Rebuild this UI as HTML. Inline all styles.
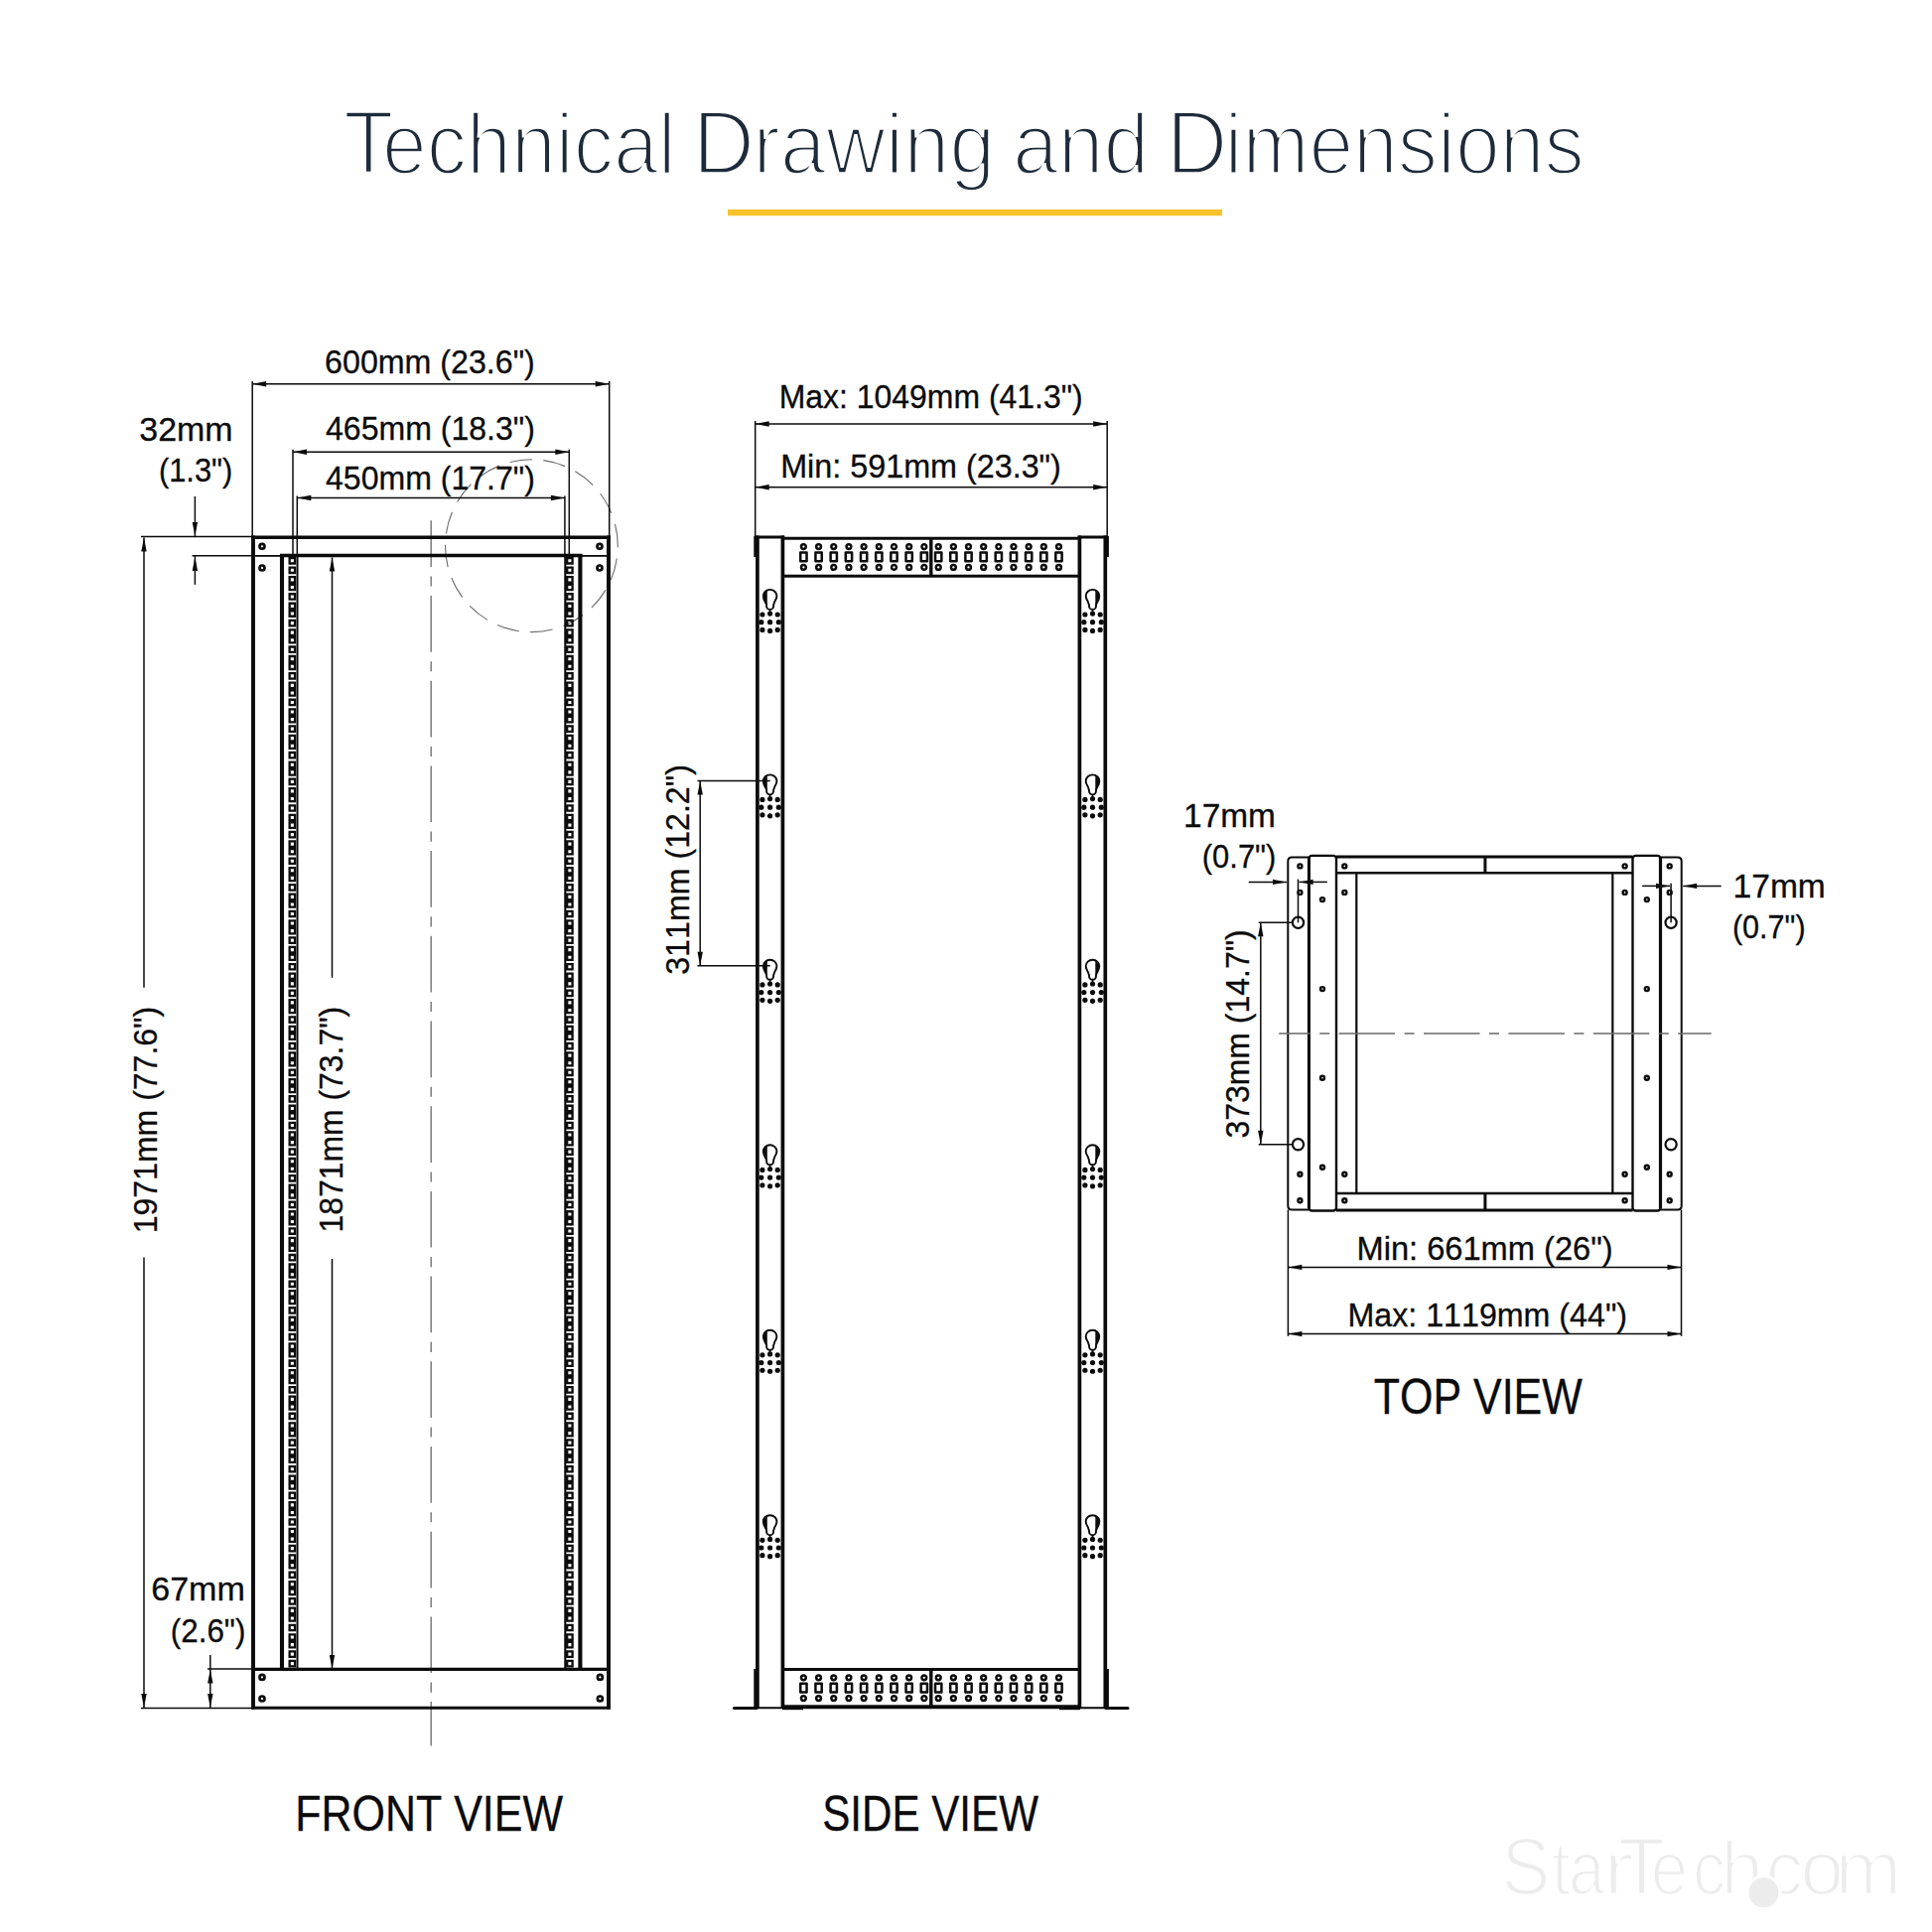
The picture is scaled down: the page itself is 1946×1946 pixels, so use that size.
<!DOCTYPE html><html><head><meta charset="utf-8"><style>html,body{margin:0;padding:0;background:#fff;width:1946px;height:1946px;overflow:hidden}svg{display:block}text{font-family:"Liberation Sans",sans-serif;font-kerning:none}</style></head><body>
<svg width="1946" height="1946" viewBox="0 0 1946 1946">
<rect width="1946" height="1946" fill="#fff"/>
<text x="346.04" y="175.4" font-size="91.57" textLength="50.45" lengthAdjust="spacingAndGlyphs" fill="#1e2b3a" stroke="#fff" stroke-width="3.4">T</text>
<text x="384.97" y="175.4" font-size="87.45" textLength="295.82" lengthAdjust="spacingAndGlyphs" fill="#1e2b3a" stroke="#fff" stroke-width="3.4">echnical</text>
<text x="697.82" y="175.4" font-size="91.57" textLength="62.31" lengthAdjust="spacingAndGlyphs" fill="#1e2b3a" stroke="#fff" stroke-width="3.4">D</text>
<text x="758.2" y="175.4" font-size="87.45" textLength="244.15" lengthAdjust="spacingAndGlyphs" fill="#1e2b3a" stroke="#fff" stroke-width="3.4">rawing</text>
<text x="1019.9" y="175.4" font-size="87.45" textLength="137.3" lengthAdjust="spacingAndGlyphs" fill="#1e2b3a" stroke="#fff" stroke-width="3.4">and</text>
<text x="1174.79" y="175.4" font-size="91.57" textLength="61.7" lengthAdjust="spacingAndGlyphs" fill="#1e2b3a" stroke="#fff" stroke-width="3.4">D</text>
<text x="1233.52" y="175.4" font-size="87.45" textLength="362.09" lengthAdjust="spacingAndGlyphs" fill="#1e2b3a" stroke="#fff" stroke-width="3.4">imensions</text>
<rect x="733" y="211" width="498" height="6.3" fill="#f9c32b"/>
<text x="1512.34" y="1907.6" font-size="82.27" textLength="49.36" lengthAdjust="spacingAndGlyphs" fill="#ececec" stroke="#fff" stroke-width="2.6">S</text>
<text x="1562.66" y="1907.6" font-size="75.73" textLength="19.15" lengthAdjust="spacingAndGlyphs" fill="#ececec" stroke="#fff" stroke-width="2.6">t</text>
<text x="1579.92" y="1907.6" font-size="75.73" textLength="36.38" lengthAdjust="spacingAndGlyphs" fill="#ececec" stroke="#fff" stroke-width="2.6">a</text>
<text x="1614.43" y="1907.6" font-size="75.73" textLength="31.44" lengthAdjust="spacingAndGlyphs" fill="#ececec" stroke="#fff" stroke-width="2.6">r</text>
<text x="1629.97" y="1907.6" font-size="82.27" textLength="47.1" lengthAdjust="spacingAndGlyphs" fill="#ececec" stroke="#fff" stroke-width="2.6">T</text>
<text x="1662.84" y="1907.6" font-size="75.73" textLength="37.45" lengthAdjust="spacingAndGlyphs" fill="#ececec" stroke="#fff" stroke-width="2.6">e</text>
<text x="1704.88" y="1907.6" font-size="75.73" textLength="33.17" lengthAdjust="spacingAndGlyphs" fill="#ececec" stroke="#fff" stroke-width="2.6">c</text>
<text x="1733.34" y="1907.6" font-size="75.73" textLength="42.98" lengthAdjust="spacingAndGlyphs" fill="#ececec" stroke="#fff" stroke-width="2.6">h</text>
<text x="1778.49" y="1907.6" font-size="75.73" textLength="37.81" lengthAdjust="spacingAndGlyphs" fill="#ececec" stroke="#fff" stroke-width="2.6">c</text>
<text x="1813.36" y="1907.6" font-size="75.73" textLength="44.29" lengthAdjust="spacingAndGlyphs" fill="#ececec" stroke="#fff" stroke-width="2.6">o</text>
<text x="1848.34" y="1907.6" font-size="75.73" textLength="67.29" lengthAdjust="spacingAndGlyphs" fill="#ececec" stroke="#fff" stroke-width="2.6">m</text>
<circle cx="1776.5" cy="1906.3" r="16.5" fill="#ececec" stroke="#fff" stroke-width="3"/>
<line x1="434.2" y1="524.3" x2="434.2" y2="1758.5" stroke="#6a6a6a" stroke-width="1.3" stroke-dasharray="56.7 9.5 10.1 9.4" stroke-dashoffset="10"/>
<circle cx="535.4" cy="549.7" r="86.9" fill="none" stroke="#6a6a6a" stroke-width="1.1" stroke-dasharray="22.6 11.4" stroke-dashoffset="21.1"/>
<line x1="253.2" y1="541.2" x2="614.8" y2="541.2" stroke="#0b0b0b" stroke-width="3.5"/>
<line x1="255" y1="539.5" x2="255" y2="1721.5" stroke="#0b0b0b" stroke-width="3.9"/>
<line x1="613" y1="539.5" x2="613" y2="1721.5" stroke="#0b0b0b" stroke-width="3.9"/>
<line x1="253.2" y1="1720.2" x2="614.8" y2="1720.2" stroke="#0b0b0b" stroke-width="3"/>
<line x1="255" y1="1681.4" x2="613" y2="1681.4" stroke="#0b0b0b" stroke-width="3.3"/>
<line x1="282.1" y1="559.5" x2="586.3" y2="559.5" stroke="#0b0b0b" stroke-width="3.3"/>
<line x1="257" y1="559.9" x2="282" y2="559.9" stroke="#0b0b0b" stroke-width="1.8"/>
<line x1="586" y1="559.9" x2="611.5" y2="559.9" stroke="#0b0b0b" stroke-width="1.8"/>
<line x1="284" y1="558" x2="284" y2="1681" stroke="#0b0b0b" stroke-width="4.1"/>
<line x1="584.4" y1="558" x2="584.4" y2="1681" stroke="#0b0b0b" stroke-width="4.1"/>
<line x1="299.5" y1="561" x2="299.5" y2="1681" stroke="#0b0b0b" stroke-width="2"/>
<line x1="569.3" y1="561" x2="569.3" y2="1681" stroke="#0b0b0b" stroke-width="2.1"/>
<path d="M291.65 562.1h5.4v5.4h-5.4ZM571.2 562.1h5.4v5.4h-5.4ZM291.65 571.62h5.4v5.4h-5.4ZM571.2 571.62h5.4v5.4h-5.4ZM291.65 581.13h5.4v5.4h-5.4ZM571.2 581.13h5.4v5.4h-5.4ZM291.65 588.73h5.4v5.4h-5.4ZM571.2 588.73h5.4v5.4h-5.4ZM291.65 598.25h5.4v5.4h-5.4ZM571.2 598.25h5.4v5.4h-5.4ZM291.65 607.76h5.4v5.4h-5.4ZM571.2 607.76h5.4v5.4h-5.4ZM291.65 615.36h5.4v5.4h-5.4ZM571.2 615.36h5.4v5.4h-5.4ZM291.65 624.88h5.4v5.4h-5.4ZM571.2 624.88h5.4v5.4h-5.4ZM291.65 634.39h5.4v5.4h-5.4ZM571.2 634.39h5.4v5.4h-5.4ZM291.65 641.99h5.4v5.4h-5.4ZM571.2 641.99h5.4v5.4h-5.4ZM291.65 651.5h5.4v5.4h-5.4ZM571.2 651.5h5.4v5.4h-5.4ZM291.65 661.02h5.4v5.4h-5.4ZM571.2 661.02h5.4v5.4h-5.4ZM291.65 668.62h5.4v5.4h-5.4ZM571.2 668.62h5.4v5.4h-5.4ZM291.65 678.13h5.4v5.4h-5.4ZM571.2 678.13h5.4v5.4h-5.4ZM291.65 687.65h5.4v5.4h-5.4ZM571.2 687.65h5.4v5.4h-5.4ZM291.65 695.25h5.4v5.4h-5.4ZM571.2 695.25h5.4v5.4h-5.4ZM291.65 704.76h5.4v5.4h-5.4ZM571.2 704.76h5.4v5.4h-5.4ZM291.65 714.28h5.4v5.4h-5.4ZM571.2 714.28h5.4v5.4h-5.4ZM291.65 721.88h5.4v5.4h-5.4ZM571.2 721.88h5.4v5.4h-5.4ZM291.65 731.39h5.4v5.4h-5.4ZM571.2 731.39h5.4v5.4h-5.4ZM291.65 740.91h5.4v5.4h-5.4ZM571.2 740.91h5.4v5.4h-5.4ZM291.65 748.51h5.4v5.4h-5.4ZM571.2 748.51h5.4v5.4h-5.4ZM291.65 758.02h5.4v5.4h-5.4ZM571.2 758.02h5.4v5.4h-5.4ZM291.65 767.54h5.4v5.4h-5.4ZM571.2 767.54h5.4v5.4h-5.4ZM291.65 775.14h5.4v5.4h-5.4ZM571.2 775.14h5.4v5.4h-5.4ZM291.65 784.65h5.4v5.4h-5.4ZM571.2 784.65h5.4v5.4h-5.4ZM291.65 794.17h5.4v5.4h-5.4ZM571.2 794.17h5.4v5.4h-5.4ZM291.65 801.77h5.4v5.4h-5.4ZM571.2 801.77h5.4v5.4h-5.4ZM291.65 811.28h5.4v5.4h-5.4ZM571.2 811.28h5.4v5.4h-5.4ZM291.65 820.8h5.4v5.4h-5.4ZM571.2 820.8h5.4v5.4h-5.4ZM291.65 828.4h5.4v5.4h-5.4ZM571.2 828.4h5.4v5.4h-5.4ZM291.65 837.91h5.4v5.4h-5.4ZM571.2 837.91h5.4v5.4h-5.4ZM291.65 847.43h5.4v5.4h-5.4ZM571.2 847.43h5.4v5.4h-5.4ZM291.65 855.03h5.4v5.4h-5.4ZM571.2 855.03h5.4v5.4h-5.4ZM291.65 864.54h5.4v5.4h-5.4ZM571.2 864.54h5.4v5.4h-5.4ZM291.65 874.06h5.4v5.4h-5.4ZM571.2 874.06h5.4v5.4h-5.4ZM291.65 881.66h5.4v5.4h-5.4ZM571.2 881.66h5.4v5.4h-5.4ZM291.65 891.17h5.4v5.4h-5.4ZM571.2 891.17h5.4v5.4h-5.4ZM291.65 900.69h5.4v5.4h-5.4ZM571.2 900.69h5.4v5.4h-5.4ZM291.65 908.29h5.4v5.4h-5.4ZM571.2 908.29h5.4v5.4h-5.4ZM291.65 917.8h5.4v5.4h-5.4ZM571.2 917.8h5.4v5.4h-5.4ZM291.65 927.32h5.4v5.4h-5.4ZM571.2 927.32h5.4v5.4h-5.4ZM291.65 934.92h5.4v5.4h-5.4ZM571.2 934.92h5.4v5.4h-5.4ZM291.65 944.43h5.4v5.4h-5.4ZM571.2 944.43h5.4v5.4h-5.4ZM291.65 953.95h5.4v5.4h-5.4ZM571.2 953.95h5.4v5.4h-5.4ZM291.65 961.55h5.4v5.4h-5.4ZM571.2 961.55h5.4v5.4h-5.4ZM291.65 971.06h5.4v5.4h-5.4ZM571.2 971.06h5.4v5.4h-5.4ZM291.65 980.58h5.4v5.4h-5.4ZM571.2 980.58h5.4v5.4h-5.4ZM291.65 988.18h5.4v5.4h-5.4ZM571.2 988.18h5.4v5.4h-5.4ZM291.65 997.69h5.4v5.4h-5.4ZM571.2 997.69h5.4v5.4h-5.4ZM291.65 1007.21h5.4v5.4h-5.4ZM571.2 1007.21h5.4v5.4h-5.4ZM291.65 1014.81h5.4v5.4h-5.4ZM571.2 1014.81h5.4v5.4h-5.4ZM291.65 1024.33h5.4v5.4h-5.4ZM571.2 1024.33h5.4v5.4h-5.4ZM291.65 1033.84h5.4v5.4h-5.4ZM571.2 1033.84h5.4v5.4h-5.4ZM291.65 1041.44h5.4v5.4h-5.4ZM571.2 1041.44h5.4v5.4h-5.4ZM291.65 1050.95h5.4v5.4h-5.4ZM571.2 1050.95h5.4v5.4h-5.4ZM291.65 1060.47h5.4v5.4h-5.4ZM571.2 1060.47h5.4v5.4h-5.4ZM291.65 1068.07h5.4v5.4h-5.4ZM571.2 1068.07h5.4v5.4h-5.4ZM291.65 1077.58h5.4v5.4h-5.4ZM571.2 1077.58h5.4v5.4h-5.4ZM291.65 1087.1h5.4v5.4h-5.4ZM571.2 1087.1h5.4v5.4h-5.4ZM291.65 1094.7h5.4v5.4h-5.4ZM571.2 1094.7h5.4v5.4h-5.4ZM291.65 1104.21h5.4v5.4h-5.4ZM571.2 1104.21h5.4v5.4h-5.4ZM291.65 1113.73h5.4v5.4h-5.4ZM571.2 1113.73h5.4v5.4h-5.4ZM291.65 1121.33h5.4v5.4h-5.4ZM571.2 1121.33h5.4v5.4h-5.4ZM291.65 1130.85h5.4v5.4h-5.4ZM571.2 1130.85h5.4v5.4h-5.4ZM291.65 1140.36h5.4v5.4h-5.4ZM571.2 1140.36h5.4v5.4h-5.4ZM291.65 1147.96h5.4v5.4h-5.4ZM571.2 1147.96h5.4v5.4h-5.4ZM291.65 1157.47h5.4v5.4h-5.4ZM571.2 1157.47h5.4v5.4h-5.4ZM291.65 1166.99h5.4v5.4h-5.4ZM571.2 1166.99h5.4v5.4h-5.4ZM291.65 1174.59h5.4v5.4h-5.4ZM571.2 1174.59h5.4v5.4h-5.4ZM291.65 1184.1h5.4v5.4h-5.4ZM571.2 1184.1h5.4v5.4h-5.4ZM291.65 1193.62h5.4v5.4h-5.4ZM571.2 1193.62h5.4v5.4h-5.4ZM291.65 1201.22h5.4v5.4h-5.4ZM571.2 1201.22h5.4v5.4h-5.4ZM291.65 1210.73h5.4v5.4h-5.4ZM571.2 1210.73h5.4v5.4h-5.4ZM291.65 1220.25h5.4v5.4h-5.4ZM571.2 1220.25h5.4v5.4h-5.4ZM291.65 1227.85h5.4v5.4h-5.4ZM571.2 1227.85h5.4v5.4h-5.4ZM291.65 1237.37h5.4v5.4h-5.4ZM571.2 1237.37h5.4v5.4h-5.4ZM291.65 1246.88h5.4v5.4h-5.4ZM571.2 1246.88h5.4v5.4h-5.4ZM291.65 1254.48h5.4v5.4h-5.4ZM571.2 1254.48h5.4v5.4h-5.4ZM291.65 1263.99h5.4v5.4h-5.4ZM571.2 1263.99h5.4v5.4h-5.4ZM291.65 1273.51h5.4v5.4h-5.4ZM571.2 1273.51h5.4v5.4h-5.4ZM291.65 1281.11h5.4v5.4h-5.4ZM571.2 1281.11h5.4v5.4h-5.4ZM291.65 1290.62h5.4v5.4h-5.4ZM571.2 1290.62h5.4v5.4h-5.4ZM291.65 1300.14h5.4v5.4h-5.4ZM571.2 1300.14h5.4v5.4h-5.4ZM291.65 1307.74h5.4v5.4h-5.4ZM571.2 1307.74h5.4v5.4h-5.4ZM291.65 1317.25h5.4v5.4h-5.4ZM571.2 1317.25h5.4v5.4h-5.4ZM291.65 1326.77h5.4v5.4h-5.4ZM571.2 1326.77h5.4v5.4h-5.4ZM291.65 1334.37h5.4v5.4h-5.4ZM571.2 1334.37h5.4v5.4h-5.4ZM291.65 1343.88h5.4v5.4h-5.4ZM571.2 1343.88h5.4v5.4h-5.4ZM291.65 1353.4h5.4v5.4h-5.4ZM571.2 1353.4h5.4v5.4h-5.4ZM291.65 1361h5.4v5.4h-5.4ZM571.2 1361h5.4v5.4h-5.4ZM291.65 1370.51h5.4v5.4h-5.4ZM571.2 1370.51h5.4v5.4h-5.4ZM291.65 1380.03h5.4v5.4h-5.4ZM571.2 1380.03h5.4v5.4h-5.4ZM291.65 1387.63h5.4v5.4h-5.4ZM571.2 1387.63h5.4v5.4h-5.4ZM291.65 1397.14h5.4v5.4h-5.4ZM571.2 1397.14h5.4v5.4h-5.4ZM291.65 1406.66h5.4v5.4h-5.4ZM571.2 1406.66h5.4v5.4h-5.4ZM291.65 1414.26h5.4v5.4h-5.4ZM571.2 1414.26h5.4v5.4h-5.4ZM291.65 1423.77h5.4v5.4h-5.4ZM571.2 1423.77h5.4v5.4h-5.4ZM291.65 1433.29h5.4v5.4h-5.4ZM571.2 1433.29h5.4v5.4h-5.4ZM291.65 1440.89h5.4v5.4h-5.4ZM571.2 1440.89h5.4v5.4h-5.4ZM291.65 1450.4h5.4v5.4h-5.4ZM571.2 1450.4h5.4v5.4h-5.4ZM291.65 1459.92h5.4v5.4h-5.4ZM571.2 1459.92h5.4v5.4h-5.4ZM291.65 1467.52h5.4v5.4h-5.4ZM571.2 1467.52h5.4v5.4h-5.4ZM291.65 1477.04h5.4v5.4h-5.4ZM571.2 1477.04h5.4v5.4h-5.4ZM291.65 1486.55h5.4v5.4h-5.4ZM571.2 1486.55h5.4v5.4h-5.4ZM291.65 1494.15h5.4v5.4h-5.4ZM571.2 1494.15h5.4v5.4h-5.4ZM291.65 1503.66h5.4v5.4h-5.4ZM571.2 1503.66h5.4v5.4h-5.4ZM291.65 1513.18h5.4v5.4h-5.4ZM571.2 1513.18h5.4v5.4h-5.4ZM291.65 1520.78h5.4v5.4h-5.4ZM571.2 1520.78h5.4v5.4h-5.4ZM291.65 1530.29h5.4v5.4h-5.4ZM571.2 1530.29h5.4v5.4h-5.4ZM291.65 1539.81h5.4v5.4h-5.4ZM571.2 1539.81h5.4v5.4h-5.4ZM291.65 1547.41h5.4v5.4h-5.4ZM571.2 1547.41h5.4v5.4h-5.4ZM291.65 1556.92h5.4v5.4h-5.4ZM571.2 1556.92h5.4v5.4h-5.4ZM291.65 1566.44h5.4v5.4h-5.4ZM571.2 1566.44h5.4v5.4h-5.4ZM291.65 1574.04h5.4v5.4h-5.4ZM571.2 1574.04h5.4v5.4h-5.4ZM291.65 1583.55h5.4v5.4h-5.4ZM571.2 1583.55h5.4v5.4h-5.4ZM291.65 1593.07h5.4v5.4h-5.4ZM571.2 1593.07h5.4v5.4h-5.4ZM291.65 1600.67h5.4v5.4h-5.4ZM571.2 1600.67h5.4v5.4h-5.4ZM291.65 1610.18h5.4v5.4h-5.4ZM571.2 1610.18h5.4v5.4h-5.4ZM291.65 1619.7h5.4v5.4h-5.4ZM571.2 1619.7h5.4v5.4h-5.4ZM291.65 1627.3h5.4v5.4h-5.4ZM571.2 1627.3h5.4v5.4h-5.4ZM291.65 1636.81h5.4v5.4h-5.4ZM571.2 1636.81h5.4v5.4h-5.4ZM291.65 1646.33h5.4v5.4h-5.4ZM571.2 1646.33h5.4v5.4h-5.4ZM291.65 1653.93h5.4v5.4h-5.4ZM571.2 1653.93h5.4v5.4h-5.4ZM291.65 1663.44h5.4v5.4h-5.4ZM571.2 1663.44h5.4v5.4h-5.4ZM291.65 1672.96h5.4v5.4h-5.4ZM571.2 1672.96h5.4v5.4h-5.4Z" fill="none" stroke="#0b0b0b" stroke-width="2.3"/>
<circle cx="264" cy="550.3" r="2.5" fill="none" stroke="#0b0b0b" stroke-width="2.7"/>
<circle cx="264" cy="572" r="2.5" fill="none" stroke="#0b0b0b" stroke-width="2.7"/>
<circle cx="604" cy="550.3" r="2.5" fill="none" stroke="#0b0b0b" stroke-width="2.7"/>
<circle cx="604" cy="572" r="2.5" fill="none" stroke="#0b0b0b" stroke-width="2.7"/>
<circle cx="264" cy="1689.4" r="2.5" fill="none" stroke="#0b0b0b" stroke-width="2.7"/>
<circle cx="264" cy="1711" r="2.5" fill="none" stroke="#0b0b0b" stroke-width="2.7"/>
<circle cx="604.4" cy="1689.4" r="2.5" fill="none" stroke="#0b0b0b" stroke-width="2.7"/>
<circle cx="604.4" cy="1711" r="2.5" fill="none" stroke="#0b0b0b" stroke-width="2.7"/>
<line x1="254.2" y1="384" x2="254.2" y2="540" stroke="#0b0b0b" stroke-width="1.5"/>
<line x1="613.7" y1="384" x2="613.7" y2="540" stroke="#0b0b0b" stroke-width="1.5"/>
<line x1="254.2" y1="386.8" x2="613.7" y2="386.8" stroke="#0b0b0b" stroke-width="1.5"/>
<path d="M254.2 386.8L268.2 384.1L268.2 389.5Z" fill="#0b0b0b"/>
<path d="M613.7 386.8L599.7 389.5L599.7 384.1Z" fill="#0b0b0b"/>
<line x1="295" y1="452.7" x2="295" y2="558" stroke="#0b0b0b" stroke-width="1.5"/>
<line x1="573.3" y1="452.7" x2="573.3" y2="558" stroke="#0b0b0b" stroke-width="1.5"/>
<line x1="295" y1="455.2" x2="573.3" y2="455.2" stroke="#0b0b0b" stroke-width="1.5"/>
<path d="M295 455.2L309 452.5L309 457.9Z" fill="#0b0b0b"/>
<path d="M573.3 455.2L559.3 457.9L559.3 452.5Z" fill="#0b0b0b"/>
<line x1="299.3" y1="499.5" x2="299.3" y2="558" stroke="#0b0b0b" stroke-width="1.5"/>
<line x1="568.9" y1="499.5" x2="568.9" y2="558" stroke="#0b0b0b" stroke-width="1.5"/>
<line x1="299.3" y1="501.5" x2="568.9" y2="501.5" stroke="#0b0b0b" stroke-width="1.5"/>
<path d="M299.3 501.5L313.3 498.8L313.3 504.2Z" fill="#0b0b0b"/>
<path d="M568.9 501.5L554.9 504.2L554.9 498.8Z" fill="#0b0b0b"/>
<line x1="142" y1="540.5" x2="254" y2="540.5" stroke="#0b0b0b" stroke-width="1.5"/>
<line x1="193.5" y1="559.8" x2="257" y2="559.8" stroke="#0b0b0b" stroke-width="1.5"/>
<line x1="196.4" y1="500" x2="196.4" y2="540.5" stroke="#0b0b0b" stroke-width="1.5"/>
<path d="M196.4 540L193.7 526L199.1 526Z" fill="#0b0b0b"/>
<line x1="196.4" y1="560" x2="196.4" y2="588.9" stroke="#0b0b0b" stroke-width="1.5"/>
<path d="M196.4 561L199.1 575L193.7 575Z" fill="#0b0b0b"/>
<line x1="145" y1="541.4" x2="145" y2="994.7" stroke="#0b0b0b" stroke-width="1.5"/>
<line x1="145" y1="1266.6" x2="145" y2="1720" stroke="#0b0b0b" stroke-width="1.5"/>
<path d="M145 541.4L147.7 555.4L142.3 555.4Z" fill="#0b0b0b"/>
<path d="M145 1720L142.3 1706L147.7 1706Z" fill="#0b0b0b"/>
<line x1="142" y1="1720.5" x2="254" y2="1720.5" stroke="#0b0b0b" stroke-width="1.5"/>
<line x1="334.5" y1="561.4" x2="334.5" y2="984.7" stroke="#0b0b0b" stroke-width="1.5"/>
<line x1="334.5" y1="1268" x2="334.5" y2="1681" stroke="#0b0b0b" stroke-width="1.5"/>
<path d="M334.5 561.4L337.2 575.4L331.8 575.4Z" fill="#0b0b0b"/>
<path d="M334.5 1681L331.8 1667L337.2 1667Z" fill="#0b0b0b"/>
<line x1="209" y1="1681" x2="254" y2="1681" stroke="#0b0b0b" stroke-width="1.5"/>
<line x1="211.8" y1="1667" x2="211.8" y2="1720" stroke="#0b0b0b" stroke-width="1.5"/>
<path d="M211.8 1681.5L214.5 1695.5L209.1 1695.5Z" fill="#0b0b0b"/>
<path d="M211.8 1720L209.1 1706L214.5 1706Z" fill="#0b0b0b"/>
<text x="327.12" y="375.65" font-size="32.85" textLength="211.73" lengthAdjust="spacingAndGlyphs" fill="#0b0b0b" stroke="#0b0b0b" stroke-width="0.3">600mm (23.6&quot;)</text>
<text x="328.01" y="442.85" font-size="32.85" textLength="210.82" lengthAdjust="spacingAndGlyphs" fill="#0b0b0b" stroke="#0b0b0b" stroke-width="0.3">465mm (18.3&quot;)</text>
<text x="328.01" y="492.75" font-size="32.85" textLength="210.82" lengthAdjust="spacingAndGlyphs" fill="#0b0b0b" stroke="#0b0b0b" stroke-width="0.3">450mm (17.7&quot;)</text>
<text x="140.36" y="444.25" font-size="32.85" textLength="94.23" lengthAdjust="spacingAndGlyphs" fill="#0b0b0b" stroke="#0b0b0b" stroke-width="0.3">32mm</text>
<text x="159.94" y="485.45" font-size="32.85" textLength="74.32" lengthAdjust="spacingAndGlyphs" fill="#0b0b0b" stroke="#0b0b0b" stroke-width="0.3">(1.3&quot;)</text>
<text x="152.22" y="1611.85" font-size="32.85" textLength="94.68" lengthAdjust="spacingAndGlyphs" fill="#0b0b0b" stroke="#0b0b0b" stroke-width="0.3">67mm</text>
<text x="171.81" y="1653.55" font-size="32.85" textLength="75.59" lengthAdjust="spacingAndGlyphs" fill="#0b0b0b" stroke="#0b0b0b" stroke-width="0.3">(2.6&quot;)</text>
<text transform="translate(157.8 1240) rotate(-90)" x="-2.29" y="-0.15" font-size="32.85" textLength="228.42" lengthAdjust="spacingAndGlyphs" fill="#0b0b0b" stroke="#0b0b0b" stroke-width="0.3">1971mm (77.6&quot;)</text>
<text transform="translate(345.2 1239.3) rotate(-90)" x="-2.28" y="-0.15" font-size="32.85" textLength="227.71" lengthAdjust="spacingAndGlyphs" fill="#0b0b0b" stroke="#0b0b0b" stroke-width="0.3">1871mm (73.7&quot;)</text>
<text x="297.33" y="1844.05" font-size="50.73" textLength="269.67" lengthAdjust="spacingAndGlyphs" fill="#0b0b0b" stroke="#0b0b0b" stroke-width="0.3">FRONT VIEW</text>
<line x1="762.9" y1="539.5" x2="762.9" y2="1720.5" stroke="#0b0b0b" stroke-width="3.7"/>
<line x1="788.4" y1="539.5" x2="788.4" y2="1720" stroke="#0b0b0b" stroke-width="3.7"/>
<line x1="1087.4" y1="539.5" x2="1087.4" y2="1720" stroke="#0b0b0b" stroke-width="3.7"/>
<line x1="1113.3" y1="539.5" x2="1113.3" y2="1720.5" stroke="#0b0b0b" stroke-width="3.7"/>
<line x1="761.2" y1="541" x2="790.1" y2="541" stroke="#0b0b0b" stroke-width="3"/>
<line x1="1085.7" y1="541" x2="1115" y2="541" stroke="#0b0b0b" stroke-width="3"/>
<line x1="760.3" y1="540" x2="760.3" y2="561" stroke="#0b0b0b" stroke-width="2"/>
<line x1="760.3" y1="1681" x2="760.3" y2="1720" stroke="#0b0b0b" stroke-width="2"/>
<line x1="1115.9" y1="540" x2="1115.9" y2="561" stroke="#0b0b0b" stroke-width="2"/>
<line x1="1115.9" y1="1681" x2="1115.9" y2="1720" stroke="#0b0b0b" stroke-width="2"/>
<line x1="788.4" y1="542.3" x2="1087.4" y2="542.3" stroke="#0b0b0b" stroke-width="3.1"/>
<line x1="788.4" y1="580.2" x2="1087.4" y2="580.2" stroke="#0b0b0b" stroke-width="3.1"/>
<line x1="937.8" y1="542.3" x2="937.8" y2="580.2" stroke="#0b0b0b" stroke-width="3.4"/>
<path d="M807 550.6a2.4 2.4 0 1 0 4.8 0a2.4 2.4 0 1 0-4.8 0ZM807 571.4a2.4 2.4 0 1 0 4.8 0a2.4 2.4 0 1 0-4.8 0ZM806.25 556.45h6.3v8.9h-6.3ZM822.18 550.6a2.4 2.4 0 1 0 4.8 0a2.4 2.4 0 1 0-4.8 0ZM822.18 571.4a2.4 2.4 0 1 0 4.8 0a2.4 2.4 0 1 0-4.8 0ZM821.43 556.45h6.3v8.9h-6.3ZM837.36 550.6a2.4 2.4 0 1 0 4.8 0a2.4 2.4 0 1 0-4.8 0ZM837.36 571.4a2.4 2.4 0 1 0 4.8 0a2.4 2.4 0 1 0-4.8 0ZM836.61 556.45h6.3v8.9h-6.3ZM852.54 550.6a2.4 2.4 0 1 0 4.8 0a2.4 2.4 0 1 0-4.8 0ZM852.54 571.4a2.4 2.4 0 1 0 4.8 0a2.4 2.4 0 1 0-4.8 0ZM851.79 556.45h6.3v8.9h-6.3ZM867.72 550.6a2.4 2.4 0 1 0 4.8 0a2.4 2.4 0 1 0-4.8 0ZM867.72 571.4a2.4 2.4 0 1 0 4.8 0a2.4 2.4 0 1 0-4.8 0ZM866.97 556.45h6.3v8.9h-6.3ZM882.9 550.6a2.4 2.4 0 1 0 4.8 0a2.4 2.4 0 1 0-4.8 0ZM882.9 571.4a2.4 2.4 0 1 0 4.8 0a2.4 2.4 0 1 0-4.8 0ZM882.15 556.45h6.3v8.9h-6.3ZM898.08 550.6a2.4 2.4 0 1 0 4.8 0a2.4 2.4 0 1 0-4.8 0ZM898.08 571.4a2.4 2.4 0 1 0 4.8 0a2.4 2.4 0 1 0-4.8 0ZM897.33 556.45h6.3v8.9h-6.3ZM913.26 550.6a2.4 2.4 0 1 0 4.8 0a2.4 2.4 0 1 0-4.8 0ZM913.26 571.4a2.4 2.4 0 1 0 4.8 0a2.4 2.4 0 1 0-4.8 0ZM912.51 556.45h6.3v8.9h-6.3ZM928.44 550.6a2.4 2.4 0 1 0 4.8 0a2.4 2.4 0 1 0-4.8 0ZM928.44 571.4a2.4 2.4 0 1 0 4.8 0a2.4 2.4 0 1 0-4.8 0ZM927.69 556.45h6.3v8.9h-6.3ZM942.8 550.6a2.4 2.4 0 1 0 4.8 0a2.4 2.4 0 1 0-4.8 0ZM942.8 571.4a2.4 2.4 0 1 0 4.8 0a2.4 2.4 0 1 0-4.8 0ZM942.05 556.45h6.3v8.9h-6.3ZM957.96 550.6a2.4 2.4 0 1 0 4.8 0a2.4 2.4 0 1 0-4.8 0ZM957.96 571.4a2.4 2.4 0 1 0 4.8 0a2.4 2.4 0 1 0-4.8 0ZM957.21 556.45h6.3v8.9h-6.3ZM973.12 550.6a2.4 2.4 0 1 0 4.8 0a2.4 2.4 0 1 0-4.8 0ZM973.12 571.4a2.4 2.4 0 1 0 4.8 0a2.4 2.4 0 1 0-4.8 0ZM972.37 556.45h6.3v8.9h-6.3ZM988.28 550.6a2.4 2.4 0 1 0 4.8 0a2.4 2.4 0 1 0-4.8 0ZM988.28 571.4a2.4 2.4 0 1 0 4.8 0a2.4 2.4 0 1 0-4.8 0ZM987.53 556.45h6.3v8.9h-6.3ZM1003.44 550.6a2.4 2.4 0 1 0 4.8 0a2.4 2.4 0 1 0-4.8 0ZM1003.44 571.4a2.4 2.4 0 1 0 4.8 0a2.4 2.4 0 1 0-4.8 0ZM1002.69 556.45h6.3v8.9h-6.3ZM1018.6 550.6a2.4 2.4 0 1 0 4.8 0a2.4 2.4 0 1 0-4.8 0ZM1018.6 571.4a2.4 2.4 0 1 0 4.8 0a2.4 2.4 0 1 0-4.8 0ZM1017.85 556.45h6.3v8.9h-6.3ZM1033.76 550.6a2.4 2.4 0 1 0 4.8 0a2.4 2.4 0 1 0-4.8 0ZM1033.76 571.4a2.4 2.4 0 1 0 4.8 0a2.4 2.4 0 1 0-4.8 0ZM1033.01 556.45h6.3v8.9h-6.3ZM1048.92 550.6a2.4 2.4 0 1 0 4.8 0a2.4 2.4 0 1 0-4.8 0ZM1048.92 571.4a2.4 2.4 0 1 0 4.8 0a2.4 2.4 0 1 0-4.8 0ZM1048.17 556.45h6.3v8.9h-6.3ZM1064.08 550.6a2.4 2.4 0 1 0 4.8 0a2.4 2.4 0 1 0-4.8 0ZM1064.08 571.4a2.4 2.4 0 1 0 4.8 0a2.4 2.4 0 1 0-4.8 0ZM1063.33 556.45h6.3v8.9h-6.3Z" fill="none" stroke="#0b0b0b" stroke-width="2.5" stroke-linejoin="round"/>
<line x1="788.4" y1="1681.5" x2="1087.4" y2="1681.5" stroke="#0b0b0b" stroke-width="3.1"/>
<line x1="788.4" y1="1718.8" x2="1087.4" y2="1718.8" stroke="#0b0b0b" stroke-width="3.1"/>
<line x1="937.8" y1="1681.5" x2="937.8" y2="1718.8" stroke="#0b0b0b" stroke-width="3.4"/>
<path d="M807 1689.8a2.4 2.4 0 1 0 4.8 0a2.4 2.4 0 1 0-4.8 0ZM807 1710.6a2.4 2.4 0 1 0 4.8 0a2.4 2.4 0 1 0-4.8 0ZM806.25 1695.65h6.3v8.9h-6.3ZM822.18 1689.8a2.4 2.4 0 1 0 4.8 0a2.4 2.4 0 1 0-4.8 0ZM822.18 1710.6a2.4 2.4 0 1 0 4.8 0a2.4 2.4 0 1 0-4.8 0ZM821.43 1695.65h6.3v8.9h-6.3ZM837.36 1689.8a2.4 2.4 0 1 0 4.8 0a2.4 2.4 0 1 0-4.8 0ZM837.36 1710.6a2.4 2.4 0 1 0 4.8 0a2.4 2.4 0 1 0-4.8 0ZM836.61 1695.65h6.3v8.9h-6.3ZM852.54 1689.8a2.4 2.4 0 1 0 4.8 0a2.4 2.4 0 1 0-4.8 0ZM852.54 1710.6a2.4 2.4 0 1 0 4.8 0a2.4 2.4 0 1 0-4.8 0ZM851.79 1695.65h6.3v8.9h-6.3ZM867.72 1689.8a2.4 2.4 0 1 0 4.8 0a2.4 2.4 0 1 0-4.8 0ZM867.72 1710.6a2.4 2.4 0 1 0 4.8 0a2.4 2.4 0 1 0-4.8 0ZM866.97 1695.65h6.3v8.9h-6.3ZM882.9 1689.8a2.4 2.4 0 1 0 4.8 0a2.4 2.4 0 1 0-4.8 0ZM882.9 1710.6a2.4 2.4 0 1 0 4.8 0a2.4 2.4 0 1 0-4.8 0ZM882.15 1695.65h6.3v8.9h-6.3ZM898.08 1689.8a2.4 2.4 0 1 0 4.8 0a2.4 2.4 0 1 0-4.8 0ZM898.08 1710.6a2.4 2.4 0 1 0 4.8 0a2.4 2.4 0 1 0-4.8 0ZM897.33 1695.65h6.3v8.9h-6.3ZM913.26 1689.8a2.4 2.4 0 1 0 4.8 0a2.4 2.4 0 1 0-4.8 0ZM913.26 1710.6a2.4 2.4 0 1 0 4.8 0a2.4 2.4 0 1 0-4.8 0ZM912.51 1695.65h6.3v8.9h-6.3ZM928.44 1689.8a2.4 2.4 0 1 0 4.8 0a2.4 2.4 0 1 0-4.8 0ZM928.44 1710.6a2.4 2.4 0 1 0 4.8 0a2.4 2.4 0 1 0-4.8 0ZM927.69 1695.65h6.3v8.9h-6.3ZM942.8 1689.8a2.4 2.4 0 1 0 4.8 0a2.4 2.4 0 1 0-4.8 0ZM942.8 1710.6a2.4 2.4 0 1 0 4.8 0a2.4 2.4 0 1 0-4.8 0ZM942.05 1695.65h6.3v8.9h-6.3ZM957.96 1689.8a2.4 2.4 0 1 0 4.8 0a2.4 2.4 0 1 0-4.8 0ZM957.96 1710.6a2.4 2.4 0 1 0 4.8 0a2.4 2.4 0 1 0-4.8 0ZM957.21 1695.65h6.3v8.9h-6.3ZM973.12 1689.8a2.4 2.4 0 1 0 4.8 0a2.4 2.4 0 1 0-4.8 0ZM973.12 1710.6a2.4 2.4 0 1 0 4.8 0a2.4 2.4 0 1 0-4.8 0ZM972.37 1695.65h6.3v8.9h-6.3ZM988.28 1689.8a2.4 2.4 0 1 0 4.8 0a2.4 2.4 0 1 0-4.8 0ZM988.28 1710.6a2.4 2.4 0 1 0 4.8 0a2.4 2.4 0 1 0-4.8 0ZM987.53 1695.65h6.3v8.9h-6.3ZM1003.44 1689.8a2.4 2.4 0 1 0 4.8 0a2.4 2.4 0 1 0-4.8 0ZM1003.44 1710.6a2.4 2.4 0 1 0 4.8 0a2.4 2.4 0 1 0-4.8 0ZM1002.69 1695.65h6.3v8.9h-6.3ZM1018.6 1689.8a2.4 2.4 0 1 0 4.8 0a2.4 2.4 0 1 0-4.8 0ZM1018.6 1710.6a2.4 2.4 0 1 0 4.8 0a2.4 2.4 0 1 0-4.8 0ZM1017.85 1695.65h6.3v8.9h-6.3ZM1033.76 1689.8a2.4 2.4 0 1 0 4.8 0a2.4 2.4 0 1 0-4.8 0ZM1033.76 1710.6a2.4 2.4 0 1 0 4.8 0a2.4 2.4 0 1 0-4.8 0ZM1033.01 1695.65h6.3v8.9h-6.3ZM1048.92 1689.8a2.4 2.4 0 1 0 4.8 0a2.4 2.4 0 1 0-4.8 0ZM1048.92 1710.6a2.4 2.4 0 1 0 4.8 0a2.4 2.4 0 1 0-4.8 0ZM1048.17 1695.65h6.3v8.9h-6.3ZM1064.08 1689.8a2.4 2.4 0 1 0 4.8 0a2.4 2.4 0 1 0-4.8 0ZM1064.08 1710.6a2.4 2.4 0 1 0 4.8 0a2.4 2.4 0 1 0-4.8 0ZM1063.33 1695.65h6.3v8.9h-6.3Z" fill="none" stroke="#0b0b0b" stroke-width="2.5" stroke-linejoin="round"/>
<path d="M739.5 1720.5H762M1114 1720.5H1136" stroke="#0b0b0b" stroke-width="3.1" stroke-linecap="round" fill="none"/>
<line x1="762" y1="1720.3" x2="1114" y2="1720.3" stroke="#0b0b0b" stroke-width="2"/>
<line x1="788" y1="1721" x2="809" y2="1721" stroke="#0b0b0b" stroke-width="2.4"/>
<line x1="1067" y1="1721" x2="1088" y2="1721" stroke="#0b0b0b" stroke-width="2.4"/>
<defs><g id="kh"><path d="M-3.5 10.2V9C-3.5 7.2-6.8 5-6.8 0A6.8 6.3 0 0 1 6.8 0C6.8 3.8 4.2 5.2 4.2 7.2C4.2 8 3.5 8.4 3.5 9V10.2A3.5 3.5 0 0 1-3.5 10.2Z" fill="none" stroke="#0b0b0b" stroke-width="1.9"/><path d="M-2.8 -6.2A6.8 6.3 0 0 0 -6.8 0C-6.8 5 -3.5 7.2 -3.5 9.5H-2.8Z" fill="#0b0b0b"/><line x1="0" y1="14" x2="0" y2="17.5" stroke="#0b0b0b" stroke-width="1.6"/><circle cx="-7.7" cy="18.8" r="2.6"/><circle cx="0" cy="17.9" r="2.6"/><circle cx="7.6" cy="18.8" r="2.6"/><circle cx="-8.8" cy="26.5" r="2.6"/><circle cx="0" cy="26.5" r="2.6"/><circle cx="8.7" cy="26.5" r="2.6"/><circle cx="-7.7" cy="34.2" r="2.6"/><circle cx="0" cy="35.2" r="2.6"/><circle cx="7.6" cy="34.2" r="2.6"/></g></defs>
<use href="#kh" transform="translate(775.6 600.2)" fill="#0b0b0b"/>
<use href="#kh" transform="translate(1100.5 600.2) scale(-1 1)" fill="#0b0b0b"/>
<use href="#kh" transform="translate(775.6 786.66)" fill="#0b0b0b"/>
<use href="#kh" transform="translate(1100.5 786.66) scale(-1 1)" fill="#0b0b0b"/>
<use href="#kh" transform="translate(775.6 973.12)" fill="#0b0b0b"/>
<use href="#kh" transform="translate(1100.5 973.12) scale(-1 1)" fill="#0b0b0b"/>
<use href="#kh" transform="translate(775.6 1159.58)" fill="#0b0b0b"/>
<use href="#kh" transform="translate(1100.5 1159.58) scale(-1 1)" fill="#0b0b0b"/>
<use href="#kh" transform="translate(775.6 1346.04)" fill="#0b0b0b"/>
<use href="#kh" transform="translate(1100.5 1346.04) scale(-1 1)" fill="#0b0b0b"/>
<use href="#kh" transform="translate(775.6 1532.5)" fill="#0b0b0b"/>
<use href="#kh" transform="translate(1100.5 1532.5) scale(-1 1)" fill="#0b0b0b"/>
<line x1="760.7" y1="424" x2="760.7" y2="541" stroke="#0b0b0b" stroke-width="1.5"/>
<line x1="1115.2" y1="424" x2="1115.2" y2="541" stroke="#0b0b0b" stroke-width="1.5"/>
<line x1="760.7" y1="427" x2="1115.2" y2="427" stroke="#0b0b0b" stroke-width="1.5"/>
<path d="M760.7 427L774.7 424.3L774.7 429.7Z" fill="#0b0b0b"/>
<path d="M1115.2 427L1101.2 429.7L1101.2 424.3Z" fill="#0b0b0b"/>
<line x1="760.7" y1="490.7" x2="1115.2" y2="490.7" stroke="#0b0b0b" stroke-width="1.5"/>
<path d="M760.7 490.7L774.7 488L774.7 493.4Z" fill="#0b0b0b"/>
<path d="M1115.2 490.7L1101.2 493.4L1101.2 488Z" fill="#0b0b0b"/>
<line x1="702.5" y1="786.4" x2="775.7" y2="786.4" stroke="#0b0b0b" stroke-width="1.5"/>
<line x1="702.5" y1="972.8" x2="775.7" y2="972.8" stroke="#0b0b0b" stroke-width="1.5"/>
<line x1="705.2" y1="786.4" x2="705.2" y2="972.8" stroke="#0b0b0b" stroke-width="1.5"/>
<path d="M705.2 786.4L707.9 800.4L702.5 800.4Z" fill="#0b0b0b"/>
<path d="M705.2 972.8L702.5 958.8L707.9 958.8Z" fill="#0b0b0b"/>
<text x="784.73" y="411.25" font-size="32.85" textLength="306" lengthAdjust="spacingAndGlyphs" fill="#0b0b0b" stroke="#0b0b0b" stroke-width="0.3">Max: 1049mm (41.3&quot;)</text>
<text x="786.2" y="480.65" font-size="32.85" textLength="282.65" lengthAdjust="spacingAndGlyphs" fill="#0b0b0b" stroke="#0b0b0b" stroke-width="0.3">Min: 591mm (23.3&quot;)</text>
<text transform="translate(693.7 980.7) rotate(-90)" x="-1.07" y="-0.15" font-size="32.85" textLength="211.62" lengthAdjust="spacingAndGlyphs" fill="#0b0b0b" stroke="#0b0b0b" stroke-width="0.3">311mm (12.2&quot;)</text>
<text x="828.14" y="1844.05" font-size="50.73" textLength="217.86" lengthAdjust="spacingAndGlyphs" fill="#0b0b0b" stroke="#0b0b0b" stroke-width="0.3">SIDE VIEW</text>
<path d="M1297.3 1214.5V867.5Q1297.3 863.5 1301.3 863.5H1318.4M1318.4 1218.5H1301.3Q1297.3 1218.5 1297.3 1214.5" fill="none" stroke="#0b0b0b" stroke-width="2"/>
<path d="M1693.7 1214.5V867.5Q1693.7 863.5 1689.7 863.5H1672.5M1672.5 1218.5H1689.7Q1693.7 1218.5 1693.7 1214.5" fill="none" stroke="#0b0b0b" stroke-width="2"/>
<rect x="1318.4" y="861.9" width="27.6" height="357.6" rx="3" fill="none" stroke="#0b0b0b" stroke-width="2.4"/>
<rect x="1644.5" y="861.9" width="28" height="357.6" rx="3" fill="none" stroke="#0b0b0b" stroke-width="2.4"/>
<line x1="1318.4" y1="864" x2="1318.4" y2="1217" stroke="#0b0b0b" stroke-width="3"/>
<line x1="1672.5" y1="864" x2="1672.5" y2="1217" stroke="#0b0b0b" stroke-width="3.2"/>
<line x1="1346" y1="863" x2="1644.5" y2="863" stroke="#0b0b0b" stroke-width="3"/>
<line x1="1346" y1="879.3" x2="1644.5" y2="879.3" stroke="#0b0b0b" stroke-width="2.6"/>
<line x1="1346" y1="1202" x2="1644.5" y2="1202" stroke="#0b0b0b" stroke-width="2.6"/>
<line x1="1346" y1="1219" x2="1644.5" y2="1219" stroke="#0b0b0b" stroke-width="3"/>
<line x1="1495.9" y1="863" x2="1495.9" y2="879.3" stroke="#0b0b0b" stroke-width="3"/>
<line x1="1495.9" y1="1202" x2="1495.9" y2="1219" stroke="#0b0b0b" stroke-width="3"/>
<line x1="1366.3" y1="879.3" x2="1366.3" y2="1202" stroke="#0b0b0b" stroke-width="2.2"/>
<line x1="1624.3" y1="879.3" x2="1624.3" y2="1202" stroke="#0b0b0b" stroke-width="2.2"/>
<line x1="1288.2" y1="1041" x2="1723.7" y2="1041" stroke="#6a6a6a" stroke-width="1.3" stroke-dasharray="56.5 9.5 10 9.4" stroke-dashoffset="25"/>
<circle cx="1309.4" cy="872.4" r="2" fill="none" stroke="#0b0b0b" stroke-width="2.4"/>
<circle cx="1309.4" cy="898.9" r="2" fill="none" stroke="#0b0b0b" stroke-width="2.4"/>
<circle cx="1309.4" cy="1182.7" r="2" fill="none" stroke="#0b0b0b" stroke-width="2.4"/>
<circle cx="1309.4" cy="1209.3" r="2" fill="none" stroke="#0b0b0b" stroke-width="2.4"/>
<circle cx="1354.3" cy="872.4" r="2" fill="none" stroke="#0b0b0b" stroke-width="2.4"/>
<circle cx="1354.3" cy="898.9" r="2" fill="none" stroke="#0b0b0b" stroke-width="2.4"/>
<circle cx="1354.3" cy="1182.7" r="2" fill="none" stroke="#0b0b0b" stroke-width="2.4"/>
<circle cx="1354.3" cy="1209.3" r="2" fill="none" stroke="#0b0b0b" stroke-width="2.4"/>
<circle cx="1636.6" cy="872.4" r="2" fill="none" stroke="#0b0b0b" stroke-width="2.4"/>
<circle cx="1636.6" cy="898.9" r="2" fill="none" stroke="#0b0b0b" stroke-width="2.4"/>
<circle cx="1636.6" cy="1182.7" r="2" fill="none" stroke="#0b0b0b" stroke-width="2.4"/>
<circle cx="1636.6" cy="1209.3" r="2" fill="none" stroke="#0b0b0b" stroke-width="2.4"/>
<circle cx="1681.7" cy="872.4" r="2" fill="none" stroke="#0b0b0b" stroke-width="2.4"/>
<circle cx="1681.7" cy="898.9" r="2" fill="none" stroke="#0b0b0b" stroke-width="2.4"/>
<circle cx="1681.7" cy="1182.7" r="2" fill="none" stroke="#0b0b0b" stroke-width="2.4"/>
<circle cx="1681.7" cy="1209.3" r="2" fill="none" stroke="#0b0b0b" stroke-width="2.4"/>
<circle cx="1332" cy="906.1" r="2" fill="none" stroke="#0b0b0b" stroke-width="2.4"/>
<circle cx="1332" cy="996.1" r="2" fill="none" stroke="#0b0b0b" stroke-width="2.4"/>
<circle cx="1332" cy="1085.8" r="2" fill="none" stroke="#0b0b0b" stroke-width="2.4"/>
<circle cx="1332" cy="1175.7" r="2" fill="none" stroke="#0b0b0b" stroke-width="2.4"/>
<circle cx="1658.8" cy="906.1" r="2" fill="none" stroke="#0b0b0b" stroke-width="2.4"/>
<circle cx="1658.8" cy="996.1" r="2" fill="none" stroke="#0b0b0b" stroke-width="2.4"/>
<circle cx="1658.8" cy="1085.8" r="2" fill="none" stroke="#0b0b0b" stroke-width="2.4"/>
<circle cx="1658.8" cy="1175.7" r="2" fill="none" stroke="#0b0b0b" stroke-width="2.4"/>
<circle cx="1307.5" cy="929.3" r="5.6" fill="none" stroke="#0b0b0b" stroke-width="2.2"/>
<circle cx="1307.5" cy="1152.8" r="5.6" fill="none" stroke="#0b0b0b" stroke-width="2.2"/>
<circle cx="1683.1" cy="929.3" r="5.6" fill="none" stroke="#0b0b0b" stroke-width="2.2"/>
<circle cx="1683.1" cy="1152.8" r="5.6" fill="none" stroke="#0b0b0b" stroke-width="2.2"/>
<line x1="1257.7" y1="888.4" x2="1296" y2="888.4" stroke="#0b0b0b" stroke-width="1.5"/>
<path d="M1296 888.4L1282 891.1L1282 885.7Z" fill="#0b0b0b"/>
<line x1="1307.5" y1="885.6" x2="1307.5" y2="929.3" stroke="#0b0b0b" stroke-width="1.5"/>
<line x1="1308.6" y1="888.4" x2="1336.8" y2="888.4" stroke="#0b0b0b" stroke-width="1.5"/>
<path d="M1308.6 888.4L1322.6 885.7L1322.6 891.1Z" fill="#0b0b0b"/>
<line x1="1695.2" y1="892.4" x2="1733.7" y2="892.4" stroke="#0b0b0b" stroke-width="1.5"/>
<path d="M1695.2 892.4L1709.2 889.7L1709.2 895.1Z" fill="#0b0b0b"/>
<line x1="1683.1" y1="889.7" x2="1683.1" y2="929.3" stroke="#0b0b0b" stroke-width="1.5"/>
<line x1="1654.2" y1="892.4" x2="1682" y2="892.4" stroke="#0b0b0b" stroke-width="1.5"/>
<path d="M1682 892.4L1668 895.1L1668 889.7Z" fill="#0b0b0b"/>
<line x1="1267.7" y1="929.3" x2="1301.9" y2="929.3" stroke="#0b0b0b" stroke-width="1.5"/>
<line x1="1267.7" y1="1152.8" x2="1301.9" y2="1152.8" stroke="#0b0b0b" stroke-width="1.5"/>
<line x1="1269.8" y1="929.3" x2="1269.8" y2="1152.8" stroke="#0b0b0b" stroke-width="1.5"/>
<path d="M1269.8 929.3L1272.5 943.3L1267.1 943.3Z" fill="#0b0b0b"/>
<path d="M1269.8 1152.8L1267.1 1138.8L1272.5 1138.8Z" fill="#0b0b0b"/>
<line x1="1297.4" y1="1218.5" x2="1297.4" y2="1345.8" stroke="#0b0b0b" stroke-width="1.5"/>
<line x1="1693.5" y1="1218.5" x2="1693.5" y2="1345.8" stroke="#0b0b0b" stroke-width="1.5"/>
<line x1="1297.4" y1="1276.4" x2="1693.5" y2="1276.4" stroke="#0b0b0b" stroke-width="1.5"/>
<path d="M1297.4 1276.4L1311.4 1273.7L1311.4 1279.1Z" fill="#0b0b0b"/>
<path d="M1693.5 1276.4L1679.5 1279.1L1679.5 1273.7Z" fill="#0b0b0b"/>
<line x1="1297.4" y1="1343.6" x2="1693.5" y2="1343.6" stroke="#0b0b0b" stroke-width="1.5"/>
<path d="M1297.4 1343.6L1311.4 1340.9L1311.4 1346.3Z" fill="#0b0b0b"/>
<path d="M1693.5 1343.6L1679.5 1346.3L1679.5 1340.9Z" fill="#0b0b0b"/>
<text x="1192.1" y="833.15" font-size="32.85" textLength="92.85" lengthAdjust="spacingAndGlyphs" fill="#0b0b0b" stroke="#0b0b0b" stroke-width="0.3">17mm</text>
<text x="1210.83" y="874.45" font-size="32.85" textLength="74.53" lengthAdjust="spacingAndGlyphs" fill="#0b0b0b" stroke="#0b0b0b" stroke-width="0.3">(0.7&quot;)</text>
<text x="1745.59" y="903.85" font-size="32.85" textLength="93.27" lengthAdjust="spacingAndGlyphs" fill="#0b0b0b" stroke="#0b0b0b" stroke-width="0.3">17mm</text>
<text x="1744.95" y="945.45" font-size="32.85" textLength="73.69" lengthAdjust="spacingAndGlyphs" fill="#0b0b0b" stroke="#0b0b0b" stroke-width="0.3">(0.7&quot;)</text>
<text transform="translate(1258.5 1145.5) rotate(-90)" x="-1.07" y="-0.15" font-size="32.85" textLength="210.2" lengthAdjust="spacingAndGlyphs" fill="#0b0b0b" stroke="#0b0b0b" stroke-width="0.3">373mm (14.7&quot;)</text>
<text x="1366.47" y="1269.35" font-size="32.85" textLength="258.2" lengthAdjust="spacingAndGlyphs" fill="#0b0b0b" stroke="#0b0b0b" stroke-width="0.3">Min: 661mm (26&quot;)</text>
<text x="1357.51" y="1335.65" font-size="32.85" textLength="281.54" lengthAdjust="spacingAndGlyphs" fill="#0b0b0b" stroke="#0b0b0b" stroke-width="0.3">Max: 1119mm (44&quot;)</text>
<text x="1383.79" y="1423.95" font-size="50.73" textLength="210.01" lengthAdjust="spacingAndGlyphs" fill="#0b0b0b" stroke="#0b0b0b" stroke-width="0.3">TOP VIEW</text>
</svg></body></html>
